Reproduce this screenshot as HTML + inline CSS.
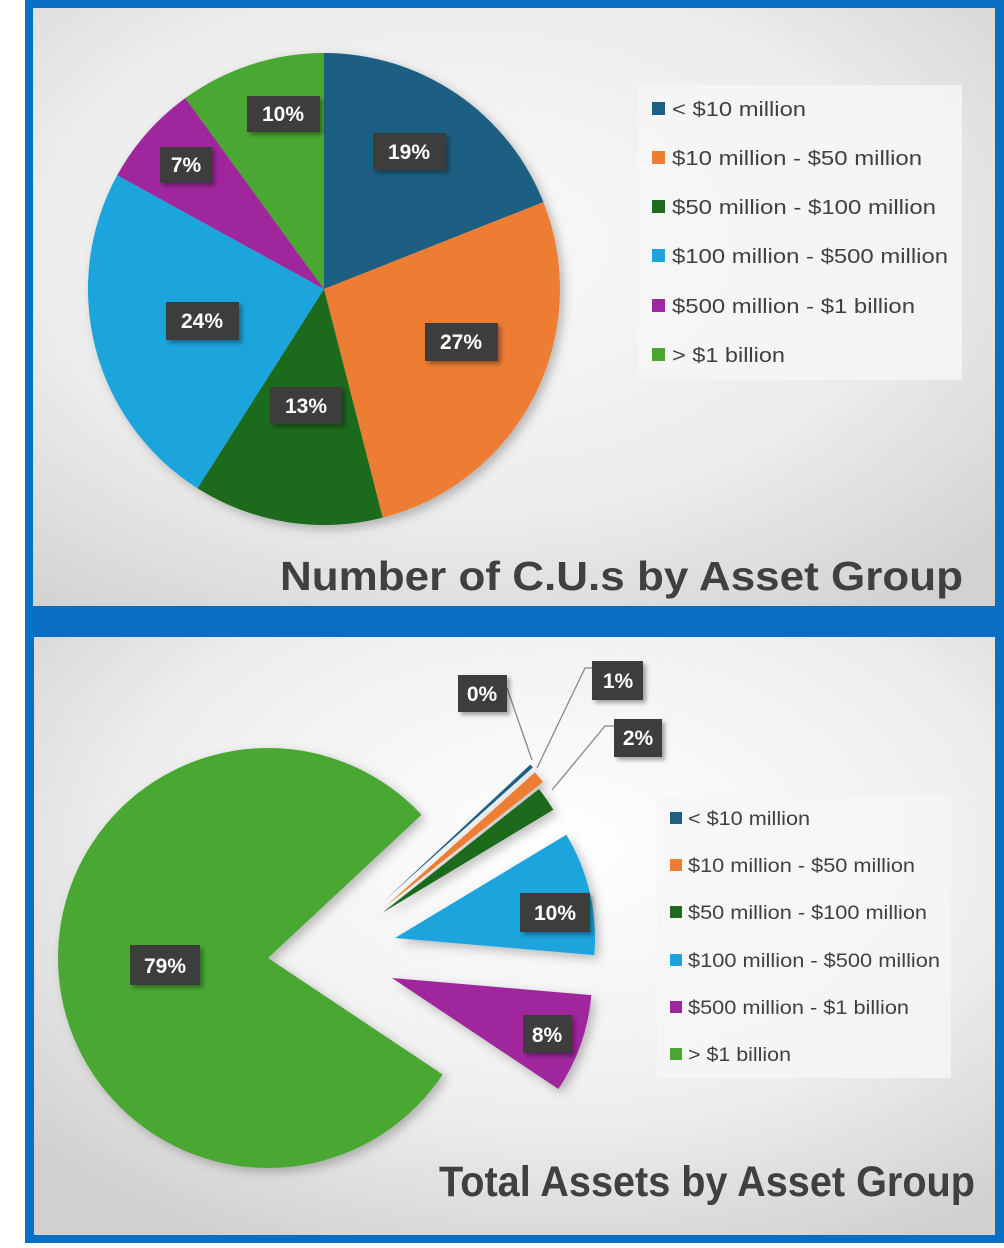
<!DOCTYPE html>
<html><head><meta charset="utf-8"><style>
body{margin:0;width:1004px;height:1243px;background:#fff;overflow:hidden;font-family:"Liberation Sans",sans-serif}
</style></head><body>
<svg width="1004" height="1243" viewBox="0 0 1004 1243" xmlns="http://www.w3.org/2000/svg" font-family="Liberation Sans, sans-serif">
<defs>
<radialGradient id="bg1" cx="0.45" cy="0.4" r="0.75">
<stop offset="0" stop-color="#fafafa"/><stop offset="0.6" stop-color="#ececec"/><stop offset="1" stop-color="#d2d2d2"/>
</radialGradient>
<radialGradient id="bg2" cx="0.55" cy="0.35" r="0.75">
<stop offset="0" stop-color="#ffffff"/><stop offset="0.6" stop-color="#eeeeee"/><stop offset="1" stop-color="#d0d0d0"/>
</radialGradient>
<filter id="sh" x="-20%" y="-20%" width="150%" height="150%"><feDropShadow dx="3" dy="3" stdDeviation="2" flood-color="#000" flood-opacity="0.35"/></filter>
<filter id="sh2" x="-10%" y="-10%" width="130%" height="130%"><feDropShadow dx="4" dy="4" stdDeviation="5" flood-color="#000" flood-opacity="0.25"/></filter>
</defs>
<rect x="25" y="0" width="979" height="1243" fill="#0a6fc2"/>
<rect x="33" y="8" width="962" height="598" fill="url(#bg1)"/>
<rect x="34" y="637" width="961" height="598" fill="url(#bg2)"/>

<!-- top pie -->
<g filter="url(#sh2)">
<path d="M324,289 L324,53 A236,236 0 0,1 543.4,202.1 Z" fill="#1f5f82"/>
<path d="M324,289 L543.4,202.1 A236,236 0 0,1 382.7,517.6 Z" fill="#ed7d31"/>
<path d="M324,289 L382.7,517.6 A236,236 0 0,1 197.5,488.3 Z" fill="#1e6b1e"/>
<path d="M324,289 L197.5,488.3 A236,236 0 0,1 117.2,175.3 Z" fill="#1ea4dc"/>
<path d="M324,289 L117.2,175.3 A236,236 0 0,1 185.3,98.1 Z" fill="#a0289e"/>
<path d="M324,289 L185.3,98.1 A236,236 0 0,1 324,53 Z" fill="#4aa832"/>
</g>
<g font-weight="bold" font-size="21" fill="#fff" text-anchor="middle">
<g filter="url(#sh)" fill="#3c3c3c">
<rect x="373" y="133" width="73" height="37"/><rect x="247" y="96" width="73" height="36"/>
<rect x="160" y="147" width="52" height="36"/><rect x="166" y="302" width="73" height="38"/>
<rect x="425" y="323" width="73" height="38"/><rect x="270" y="387" width="72" height="37"/>
</g>
<text x="409" y="159">19%</text><text x="283" y="121">10%</text><text x="186" y="172">7%</text>
<text x="202" y="328">24%</text><text x="461" y="349">27%</text><text x="306" y="413">13%</text>
</g>
<rect x="638" y="85" width="324" height="295" fill="#f6f6f6" opacity="0.8"/>
<g font-size="20" fill="#404040" lengthAdjust="spacingAndGlyphs">
<rect x="652" y="102" width="13" height="13" fill="#1f5f82"/><text x="672" y="116" textLength="134" lengthAdjust="spacingAndGlyphs">&lt; $10 million</text>
<rect x="652" y="151" width="13" height="13" fill="#ed7d31"/><text x="672" y="165" textLength="250" lengthAdjust="spacingAndGlyphs">$10 million - $50 million</text>
<rect x="652" y="200" width="13" height="13" fill="#1e6b1e"/><text x="672" y="214" textLength="264" lengthAdjust="spacingAndGlyphs">$50 million - $100 million</text>
<rect x="652" y="249" width="13" height="13" fill="#1ea4dc"/><text x="672" y="263" textLength="276" lengthAdjust="spacingAndGlyphs">$100 million - $500 million</text>
<rect x="652" y="299" width="13" height="13" fill="#a0289e"/><text x="672" y="313" textLength="243" lengthAdjust="spacingAndGlyphs">$500 million - $1 billion</text>
<rect x="652" y="348" width="13" height="13" fill="#4aa832"/><text x="672" y="362" textLength="113" lengthAdjust="spacingAndGlyphs">&gt; $1 billion</text>
</g>
<text x="280" y="590" font-size="41" font-weight="bold" fill="#404040" textLength="683" lengthAdjust="spacingAndGlyphs">Number of C.U.s by Asset Group</text>

<!-- bottom pie -->
<g filter="url(#sh2)">
<path d="M268,958 L442.7,1074.5 A210,210 0 1,1 421.6,814.8 Z" fill="#4aa832"/>
<path d="M395,938 L566.3,834.7 A200,200 0 0,1 594.3,955.1 Z" fill="#1ea4dc"/>
<path d="M392,978 L591.3,995.1 A200,200 0 0,1 558.4,1089 Z" fill="#a0289e"/>
<path d="M382,913 L539,789 A200,200 0 0,1 553.3,809.7 Z" fill="#1e6b1e"/>
<path d="M386,906 L534.9,772.4 A200,200 0 0,1 543,782 Z" fill="#ed7d31"/>
<path d="M384,901 L530.3,764.6 A200,200 0 0,1 532.9,767.4 Z" fill="#1f5f82"/>
</g>
<g stroke="#888" stroke-width="1.3" fill="none">
<polyline points="507,688 532,760"/>
<polyline points="592,668 585,668 537,768"/>
<polyline points="614,726 605,726 552,790"/>
</g>
<g font-weight="bold" font-size="21" fill="#fff" text-anchor="middle">
<g filter="url(#sh)" fill="#3c3c3c">
<rect x="458" y="675" width="49" height="37"/><rect x="592" y="661" width="51" height="39"/>
<rect x="614" y="719" width="48" height="38"/><rect x="520" y="893" width="70" height="39"/>
<rect x="130" y="945" width="70" height="40"/><rect x="523" y="1015" width="49" height="38"/>
</g>
<text x="482" y="701">0%</text><text x="618" y="688">1%</text><text x="638" y="745">2%</text>
<text x="555" y="920">10%</text><text x="165" y="973">79%</text><text x="547" y="1042">8%</text>
</g>
<rect x="657" y="795" width="294" height="283" fill="#f6f6f6" opacity="0.8"/>
<g font-size="19" fill="#404040">
<rect x="670" y="812" width="12" height="12" fill="#1f5f82"/><text x="688" y="825" textLength="122" lengthAdjust="spacingAndGlyphs">&lt; $10 million</text>
<rect x="670" y="859" width="12" height="12" fill="#ed7d31"/><text x="688" y="872" textLength="227" lengthAdjust="spacingAndGlyphs">$10 million - $50 million</text>
<rect x="670" y="906" width="12" height="12" fill="#1e6b1e"/><text x="688" y="919" textLength="239" lengthAdjust="spacingAndGlyphs">$50 million - $100 million</text>
<rect x="670" y="954" width="12" height="12" fill="#1ea4dc"/><text x="688" y="967" textLength="252" lengthAdjust="spacingAndGlyphs">$100 million - $500 million</text>
<rect x="670" y="1001" width="12" height="12" fill="#a0289e"/><text x="688" y="1014" textLength="221" lengthAdjust="spacingAndGlyphs">$500 million - $1 billion</text>
<rect x="670" y="1048" width="12" height="12" fill="#4aa832"/><text x="688" y="1061" textLength="103" lengthAdjust="spacingAndGlyphs">&gt; $1 billion</text>
</g>
<text x="975" y="1196" text-anchor="end" font-size="43" font-weight="bold" fill="#404040" textLength="536" lengthAdjust="spacingAndGlyphs">Total Assets by Asset Group</text>
</svg>
</body></html>
